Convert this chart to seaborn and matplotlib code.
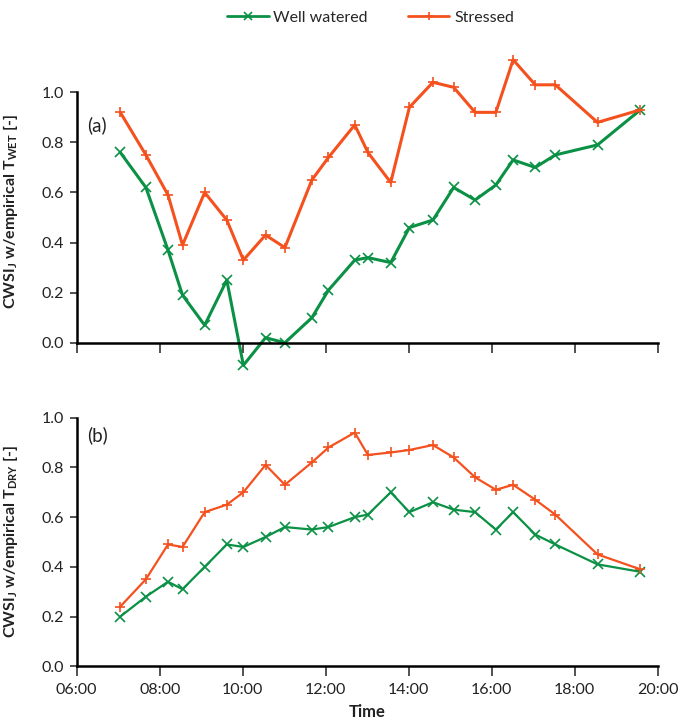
import numpy as np
import pandas as pd
import seaborn as sns
import matplotlib.pyplot as plt
from matplotlib.ticker import FormatStrFormatter

# sampling times (HH:MM)
times = ['07:03', '07:40', '08:12', '08:33', '09:05', '09:37', '10:01', '10:33',
         '11:01', '11:40', '12:04', '12:42', '13:01', '13:34', '14:01', '14:35',
         '15:05', '15:36', '16:06', '16:31', '17:03', '17:32', '18:33', '19:35']

# (a) CWSI with empirical T_wet
ww_wet = [0.76, 0.62, 0.37, 0.19, 0.07, 0.25, -0.09, 0.02, 0.00, 0.10, 0.21, 0.33,
          0.34, 0.32, 0.46, 0.49, 0.62, 0.57, 0.63, 0.73, 0.70, 0.75, 0.79, 0.93]
st_wet = [0.92, 0.75, 0.59, 0.39, 0.60, 0.49, 0.33, 0.43, 0.38, 0.65, 0.74, 0.87,
          0.76, 0.64, 0.94, 1.04, 1.02, 0.92, 0.92, 1.13, 1.03, 1.03, 0.88, 0.93]

# (b) CWSI with empirical T_dry
ww_dry = [0.20, 0.28, 0.34, 0.31, 0.40, 0.49, 0.48, 0.52, 0.56, 0.55, 0.56, 0.60,
          0.61, 0.70, 0.62, 0.66, 0.63, 0.62, 0.55, 0.62, 0.53, 0.49, 0.41, 0.38]
st_dry = [0.24, 0.35, 0.49, 0.48, 0.62, 0.65, 0.70, 0.81, 0.73, 0.82, 0.88, 0.94,
          0.85, 0.86, 0.87, 0.89, 0.84, 0.76, 0.71, 0.73, 0.67, 0.61, 0.45, 0.39]

groups = ['Well watered', 'Stressed']
colors = {'Well watered': '#0B9145', 'Stressed': '#F4511E'}
markers = {'Well watered': 'x', 'Stressed': '+'}

hours = (pd.to_timedelta(pd.Series(times) + ':00').dt.total_seconds() / 3600).tolist()


def make_df(ww, st):
    return pd.DataFrame({
        'hour': hours * 2,
        'cwsi': ww + st,
        'treatment': ['Well watered'] * len(ww) + ['Stressed'] * len(st),
    })


sns.set_style('ticks')
plt.rcParams['font.family'] = ['Lato', 'DejaVu Sans']
plt.rcParams['mathtext.fontset'] = 'custom'
plt.rcParams['mathtext.rm'] = 'Lato:bold'
plt.rcParams['mathtext.bf'] = 'Lato:bold'

fig = plt.figure(figsize=(6.8, 7.27), dpi=100)
ax1 = fig.add_axes([0.1128, 0.4769, 0.8544, 0.465])
ax2 = fig.add_axes([0.1128, 0.0835, 0.8544, 0.342])

for ax, df, lw in [(ax1, make_df(ww_wet, st_wet), 2.2), (ax2, make_df(ww_dry, st_dry), 1.6)]:
    sns.lineplot(data=df, x='hour', y='cwsi', hue='treatment', style='treatment',
                 hue_order=groups, style_order=groups, palette=colors,
                 markers=markers, dashes=False, linewidth=lw, markersize=7.5,
                 markeredgewidth=1.2, ax=ax, legend=(ax is ax1), clip_on=False)
    # seaborn paints marker edges white; give them the line colour
    for line in ax.lines:
        line.set_markeredgecolor(line.get_color())
    ax.set_xlim(6, 20)
    ax.set_xticks(np.arange(6, 21, 2))
    ax.set_yticks(np.arange(0, 1.01, 0.2))
    ax.yaxis.set_major_formatter(FormatStrFormatter('%.1f'))
    ax.spines['left'].set_bounds(0, 1)
    for s in ['left', 'bottom']:
        ax.spines[s].set_linewidth(1.8)
        ax.spines[s].set_color('black')
    sns.despine(ax=ax)
    ax.tick_params(axis='both', direction='out', width=1.2, color='#333333',
                   labelsize=11.5, labelcolor='#222222')
    ax.tick_params(axis='x', length=7, pad=5)
    ax.tick_params(axis='y', length=5, pad=4)
    ax.yaxis.set_label_coords(-0.098, 0.5)

# panel (a)
ax1.set_ylim(-0.15, 1.2)
ax1.spines['bottom'].set_position(('data', 0))
ax1.tick_params(axis='x', labelbottom=False)
ax1.set_xlabel('')
ax1.set_ylabel(r'CWSI$_\mathrm{J}$ w/empirical T$_\mathrm{WET}$ [-]',
               fontsize=11.5, fontweight='bold', color='#222222')
ax1.text(6.25, 0.87, '(a)', fontsize=13.5, color='#222222', va='center')

# panel (b)
ax2.set_ylim(0, 1.0)
ax2.set_xticklabels([f'{h:02d}:00' for h in range(6, 21, 2)])
ax2.set_xlabel('Time', fontsize=12, fontweight='bold', color='#222222', labelpad=5)
ax2.set_ylabel(r'CWSI$_\mathrm{J}$ w/empirical T$_\mathrm{DRY}$ [-]',
               fontsize=11.5, fontweight='bold', color='#222222')
ax2.text(6.25, 0.93, '(b)', fontsize=13.5, color='#222222', va='center')

handles, labels = ax1.get_legend_handles_labels()
for h in handles:
    h.set_markeredgecolor(h.get_color())
    h.set_markersize(6)
    h.set_linewidth(2.0)
ax1.get_legend().remove()
fig.legend(handles, labels, loc='upper center', bbox_to_anchor=(0.545, 1.005),
           ncol=2, frameon=False, fontsize=11.5, handlelength=2.6,
           columnspacing=2.5, handletextpad=0.3)

fig.savefig('out.png', dpi=100)
